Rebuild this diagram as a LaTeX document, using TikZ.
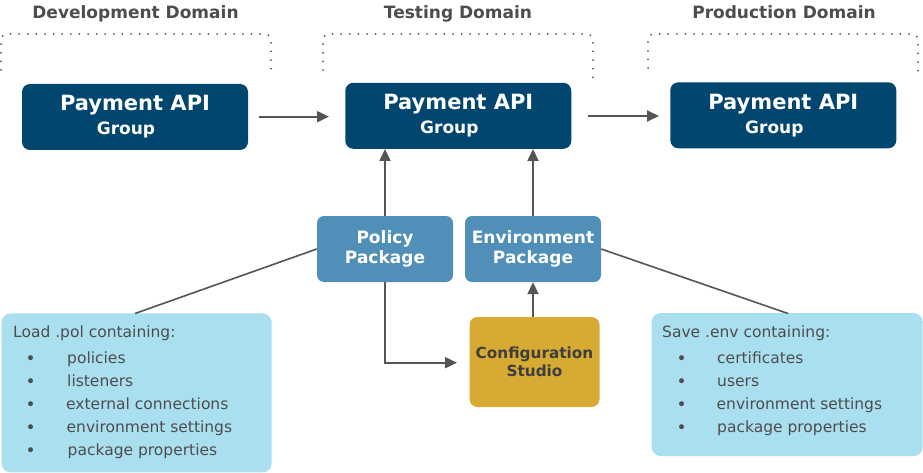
\documentclass[tikz,border=0pt]{standalone}
\usepackage{fontspec}
\setmainfont{DejaVu Sans}
\usetikzlibrary{arrows.meta}
\definecolor{darkblue}{HTML}{00466F}
\definecolor{pkgblue}{HTML}{5090B8}
\definecolor{studio}{HTML}{D6AA33}
\definecolor{infoblue}{HTML}{AADFF0}
\definecolor{txtgray}{HTML}{4D4D4D}
\definecolor{linegray}{HTML}{555555}
\newcommand{\grp}{{\fontsize{17}{18}\selectfont Group}\hbox to 18pt{}}
\tikzset{
  darkbox/.style={draw=none, fill=darkblue, rounded corners=8pt, text=white, align=center, inner sep=0pt,
    minimum width=226pt, minimum height=66pt, font=\bfseries\fontsize{21}{24}\selectfont},
  pkgbox/.style={draw=none, fill=pkgblue, rounded corners=7pt, text=white, align=center, inner sep=0pt,
    minimum width=136pt, minimum height=66pt, font=\bfseries\fontsize{17}{20}\selectfont},
  studiobox/.style={draw=none, fill=studio, rounded corners=8pt, text=txtgray!80!black, align=center, inner sep=0pt,
    minimum width=130pt, minimum height=90pt, font=\bfseries\fontsize{15.3}{18.5}\selectfont},
  infobox/.style={draw=none, fill=infoblue, rounded corners=9pt, inner sep=0pt},
  infotext/.style={anchor=base west, inner sep=0pt, text=txtgray, font=\fontsize{15.5}{18}\selectfont},
  bul/.style={infotext, font=\fontsize{17}{18}\selectfont, yshift=-1pt},
  title/.style={anchor=base, inner sep=0pt, text=txtgray, font=\bfseries\fontsize{17}{20}\selectfont},
  arr/.style={draw=linegray, line width=2pt, -{Triangle[length=12pt,width=11pt]}},
  dots/.style={draw=linegray, line width=2pt, line cap=round, dash pattern=on 0pt off 8.6pt, rounded corners=6pt},
}
\begin{document}
\begin{tikzpicture}[x=1pt,y=-1pt]
\useasboundingbox (0,0) rectangle (923,473);

% titles
\node[title] (tdev) at (135.5,19) {Development Domain};
\node[title] (ttest) at (458,19) {Testing Domain};
\node[title] (tprod) at (784,19) {Production Domain};

% dotted brackets
\draw[dots] (1,70) -- (1,34) -- (271,34) -- (271,77);
\draw[dots] (323,70) -- (323,34) -- (593,34) -- (593,78);
\draw[dots] (648,68) -- (648,34) -- (918,34) -- (918,76);

% top boxes
\node[darkbox] (dev) at (135,117) {Payment API\\\grp};
\node[darkbox] (test) at (458.3,115.8) {Payment API\\\grp};
\node[darkbox] (prod) at (783.3,115.3) {Payment API\\\grp};

% packages
\node[pkgbox] (pol) at (385,249) {Policy\\Package};
\node[pkgbox] (env) at (533,249) {Environment\\Package};
\node[studiobox] (cs) at (534.5,362) {Configuration\\Studio};

% info boxes
\node[infobox, minimum width=270pt, minimum height=159pt] (linfo) at (136.7,392.9) {};
\node[infobox, minimum width=271pt, minimum height=143pt] (rinfo) at (787.2,384.6) {};

\node[infotext] (l0) at (13,337) {Load .pol containing:};
\node[bul] (lb1) at (25.5,363) {•};
\node[infotext] (l1) at (67,363) {policies};
\node[bul] (lb2) at (25.5,386) {•};
\node[infotext] (l2) at (67,386) {listeners};
\node[bul] (lb3) at (25.5,409) {•};
\node[infotext] (l3) at (66,409) {external connections};
\node[bul] (lb4) at (25.5,432) {•};
\node[infotext] (l4) at (66.5,432) {environment settings};
\node[bul] (lb5) at (25.5,455) {•};
\node[infotext] (l5) at (67.5,455) {package properties};

\node[infotext] (r0) at (662,337) {Save .env containing:};
\node[bul] (rb1) at (676.5,363) {•};
\node[infotext] (r1) at (717,363) {certificates};
\node[bul] (rb2) at (676.5,386) {•};
\node[infotext] (r2) at (717,386) {users};
\node[bul] (rb3) at (676.5,409) {•};
\node[infotext] (r3) at (716.5,409) {environment settings};
\node[bul] (rb4) at (676.5,432) {•};
\node[infotext] (r4) at (717,432) {package properties};

% connectors
\coordinate (a1) at (259,116.7);
\coordinate (a2) at (329,116.7);
\draw[arr] (a1) -- (a2);
\coordinate (b1) at (588,116);
\coordinate (b2) at (659,116);
\draw[arr] (b1) -- (b2);

\draw[arr] (pol.north) -- (pol.north |- test.south);
\draw[arr] (env.north) -- (env.north |- test.south);
\draw[arr] (cs.north -| env.north) -- (env.south);

\coordinate (cin) at (457,362.7);
\draw[arr] (pol.south) |- (cin);

\coordinate (lt) at (135,313.5);
\coordinate (rt) at (788,313.5);
\draw[draw=linegray, line width=1.6pt] (pol.west) -- (lt);
\draw[draw=linegray, line width=1.6pt] (env.east) -- (rt);
\end{tikzpicture}
\end{document}
